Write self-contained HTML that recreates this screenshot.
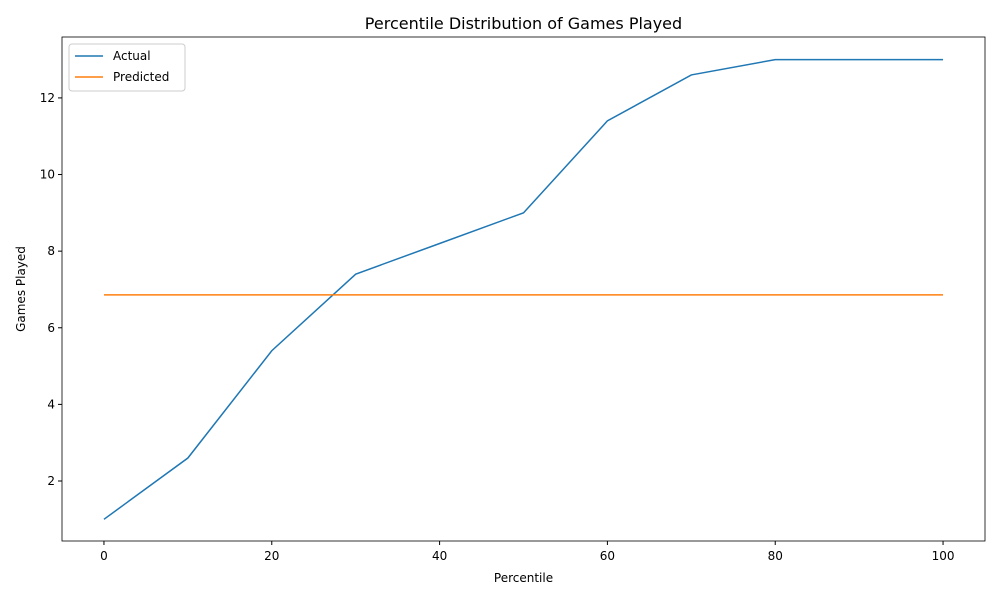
<!DOCTYPE html>
<html><head><meta charset="utf-8"><style>
body{margin:0;background:#fff;font-family:"Liberation Sans","DejaVu Sans",sans-serif;}
svg text{font-family:"DejaVu Sans","Liberation Sans",sans-serif;}
</style></head><body>
<svg id="chart" width="1000" height="600" xmlns="http://www.w3.org/2000/svg"></svg>
<script>
const percentiles=[0,10,20,30,40,50,60,70,80,90,100];
const actual=[1,2.6,5.4,7.4,8.2,9.0,11.4,12.6,13,13,13];
const predicted=[6.86,6.86,6.86,6.86,6.86,6.86,6.86,6.86,6.86,6.86,6.86];
const xTicks=[0,20,40,60,80,100];
const yTicks=[2,4,6,8,10,12];
const L=62,R=985,T=37,B=541;
const xMin=-5,xMax=105,yMin=0.434,yMax=13.59;
const X=v=>L+(v-xMin)/(xMax-xMin)*(R-L);
const Y=v=>B-(v-yMin)/(yMax-yMin)*(B-T);
const svg=document.getElementById('chart');
const NS='http://www.w3.org/2000/svg';
function mk(tag,attrs,parent){const e=document.createElementNS(NS,tag);for(const k in attrs)e.setAttribute(k,attrs[k]);(parent||svg).appendChild(e);return e;}
let t;
t=mk('text',{x:(L+R)/2,y:29,'text-anchor':'middle','font-size':16,fill:'#000'});t.textContent='Percentile Distribution of Games Played';


xTicks.forEach(v=>{
 const l=mk('line',{x1:X(v),x2:X(v),y1:B,y2:B+4,stroke:'#000'});
 
 
 const tx=mk('text',{x:X(v),y:B+19,'text-anchor':'middle','font-size':12});tx.textContent=v;
 
 
});
yTicks.forEach(v=>{
 const l=mk('line',{x1:L-4,x2:L,y1:Y(v),y2:Y(v),stroke:'#000'});
 
 
 const tx=mk('text',{x:L-7,y:Y(v)+4,'text-anchor':'end','font-size':12});tx.textContent=v;
 
 
});
t=mk('text',{x:(L+R)/2,y:582,'text-anchor':'middle','font-size':12});t.textContent='Percentile';


t=mk('text',{x:25,y:(T+B)/2,'text-anchor':'middle','font-size':12,transform:`rotate(-90 25 ${(T+B)/2})`});t.textContent='Games Played';


function line(vals,color,name){
 const p=mk('polyline',{points:percentiles.map((x,i)=>X(x)+','+Y(vals[i])).join(' '),fill:'none',stroke:color,'stroke-width':1.5});
 
 
}
line(actual,'#1f77b4','actual-line');
line(predicted,'#ff7f0e','predicted-line');
const fr=mk('rect',{x:L,y:T,width:R-L,height:B-T,fill:'none',stroke:'#000','stroke-width':0.8});


const lg=mk('g',{});


mk('rect',{x:69,y:44,width:116,height:47,fill:'#fff',stroke:'#ccc',rx:3},lg);
[['Actual','#1f77b4',56],['Predicted','#ff7f0e',77]].forEach(([n,c,y])=>{
 const e=mk('g',{},lg);
 
 
 mk('line',{x1:75,x2:103,y1:y,y2:y,stroke:c,'stroke-width':1.5},e);
 const tx=mk('text',{x:113,y:y+4,'font-size':12},e);tx.textContent=n;
});
</script>
</body></html>
